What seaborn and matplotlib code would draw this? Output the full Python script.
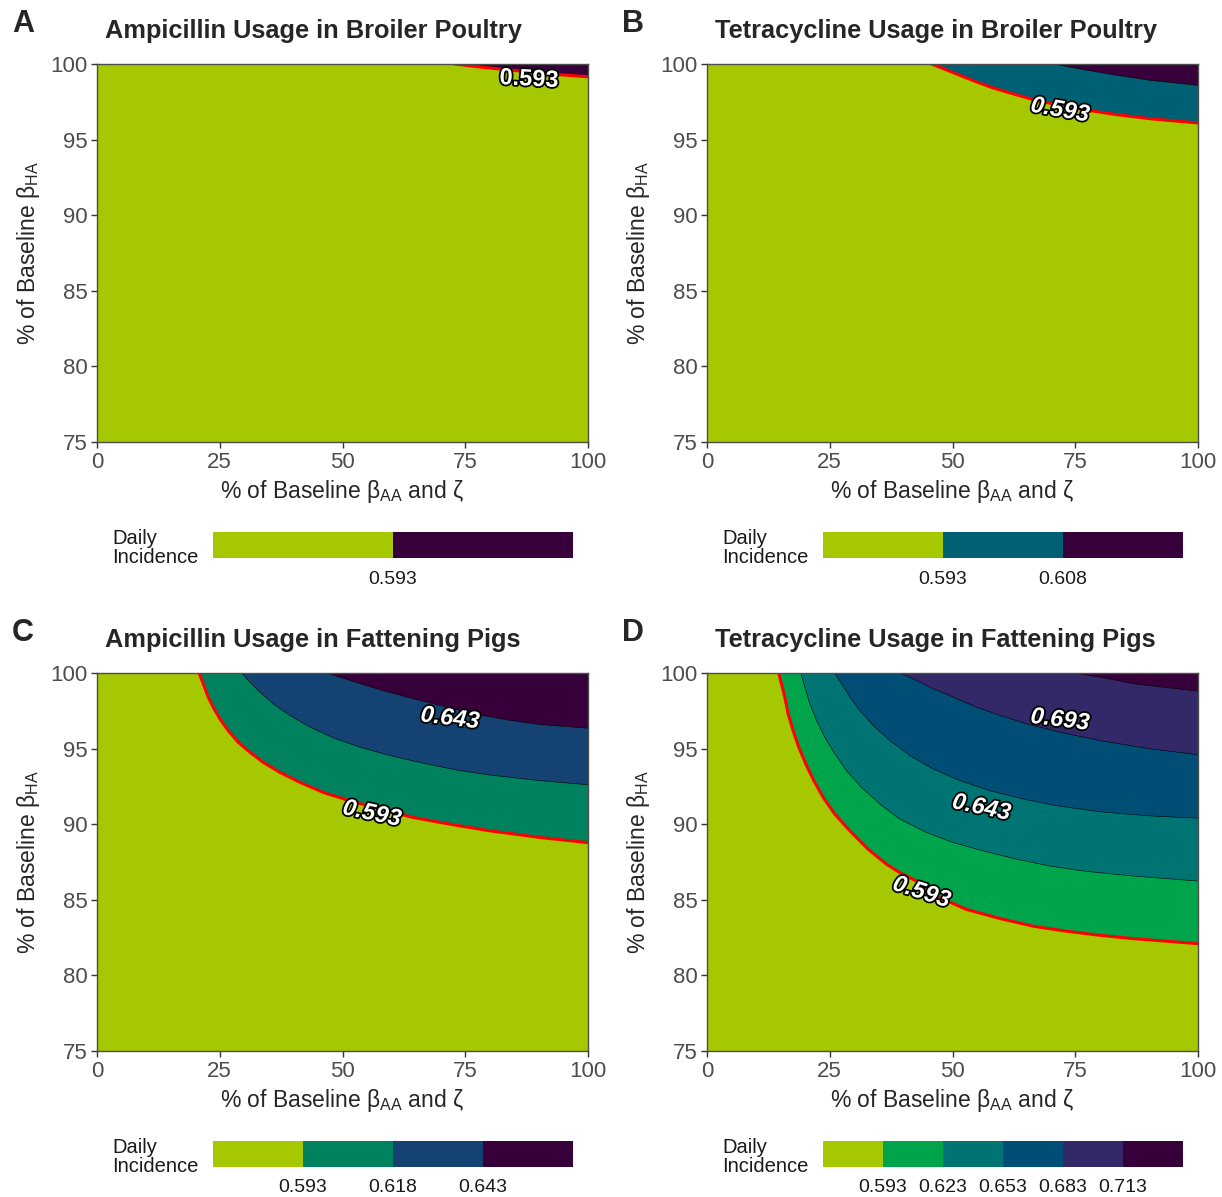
import matplotlib
matplotlib.use("Agg")
import matplotlib.pyplot as plt
import matplotlib.patheffects as pe
from matplotlib.colors import ListedColormap, BoundaryNorm
from matplotlib.cm import ScalarMappable
import seaborn as sns

# ----------------------------------------------------------------------------
# Dados: fronteiras das faixas de contorno (x, y)
# ----------------------------------------------------------------------------
LIME = "#A6C800"

# A - Ampicilina, frango
a_levels = [0.593]
a_colors = [LIME, "#37003A"]
a_x1 = [72.9, 78.0, 84.1, 92.0, 100]
a_y1 = [100, 99.8, 99.6, 99.35, 99.15]

# B - Tetraciclina, frango
b_levels = [0.593, 0.608]
b_colors = [LIME, "#006073", "#37003A"]
b_x1 = [45.75, 48.13, 51.53, 54.93, 58.33, 62.41, 66.49, 71.24, 76.68, 83.48, 90.28, 100]
b_y1 = [100, 99.69, 99.25, 98.81, 98.41, 98.02, 97.64, 97.31, 96.98, 96.65, 96.38, 96.10]
b_x2 = [70.56, 76.68, 83.48, 90.28, 100]
b_y2 = [100, 99.63, 99.25, 98.92, 98.59]

# C - Ampicilina, suinos
c_levels = [0.593, 0.618, 0.643]
c_colors = [LIME, "#00825F", "#144373", "#37003A"]
c_x1 = [20.80, 21.62, 22.64, 23.66, 25.02, 26.72, 28.76, 31.14, 33.85, 37.25,
        41.33, 46.09, 51.53, 57.65, 64.45, 71.92, 80.08, 90.28, 100]
c_y1 = [100, 99.29, 98.41, 97.74, 96.97, 96.19, 95.42, 94.76, 94.09, 93.43,
        92.77, 92.10, 91.55, 91.00, 90.44, 90.00, 89.56, 89.12, 88.78]
c_x2 = [29.44, 31.14, 33.17, 35.89, 39.29, 43.37, 48.13, 53.57, 59.69, 66.49,
        73.28, 80.08, 90.28, 100]
c_y2 = [100, 99.40, 98.74, 97.96, 97.19, 96.42, 95.71, 95.09, 94.54, 94.03,
        93.58, 93.25, 92.88, 92.61]
c_x3 = [46.77, 51.53, 56.97, 63.09, 69.88, 76.68, 83.48, 90.28, 100]
c_y3 = [100, 99.51, 98.96, 98.41, 97.85, 97.30, 96.90, 96.59, 96.35]

# D - Tetraciclina, suinos
d_levels = [0.593, 0.623, 0.653, 0.683, 0.713]
d_colors = [LIME, "#00A54B", "#007373", "#004E76", "#332868", "#37003A"]
d_x1 = [14.60, 15.16, 15.84, 16.52, 17.54, 18.69, 20.12, 21.75, 23.66, 26.04,
        29.10, 32.83, 36.57, 39.29, 42.69, 47.45, 52.89, 59.69, 66.49, 73.28,
        80.08, 86.88, 93.68, 100]
d_y1 = [100, 99.29, 98.41, 97.30, 96.19, 95.09, 93.98, 92.88, 91.77, 90.66,
        89.56, 88.34, 87.35, 86.79, 86.24, 85.13, 84.36, 83.76, 83.25, 82.92,
        82.65, 82.43, 82.26, 82.10]
d_x2 = [19.10, 19.92, 20.94, 22.30, 24.00, 26.04, 28.42, 31.48, 35.21, 39.29,
        44.73, 50.17, 56.29, 63.09, 69.88, 76.68, 86.88, 100]
d_y2 = [100, 99.07, 97.96, 96.86, 95.75, 94.65, 93.54, 92.43, 91.33, 90.33,
        89.45, 88.78, 88.23, 87.68, 87.23, 86.90, 86.57, 86.24]
d_x3 = [26.04, 27.40, 29.10, 31.14, 33.85, 37.25, 41.33, 46.09, 51.53, 57.65,
        64.45, 71.24, 80.08, 90.28, 100]
d_y3 = [100, 99.29, 98.41, 97.52, 96.53, 95.53, 94.54, 93.65, 92.88, 92.21,
        91.66, 91.22, 90.82, 90.55, 90.40]
d_x4 = [39.29, 42.69, 46.09, 50.17, 54.93, 59.69, 65.13, 71.92, 80.08, 90.28, 100]
d_y4 = [100, 99.51, 98.96, 98.41, 97.74, 97.19, 96.64, 96.08, 95.53, 94.98, 94.60]
d_x5 = [74.64, 80.08, 86.88, 93.68, 100]
d_y5 = [100, 99.73, 99.29, 99.03, 98.81]

# rótulos dos contornos: (texto, x, y, rotação)
a_labels = [("0.593", 88.0, 99.0, -3)]
b_labels = [("0.593", 71.9, 96.95, -10)]
c_labels = [("0.643", 71.9, 97.0, -7), ("0.593", 56.0, 90.7, -12)]
d_labels = [("0.693", 71.9, 96.9, -7), ("0.643", 55.9, 91.1, -12),
            ("0.593", 43.7, 85.5, -18)]

x_ticks = [0, 25, 50, 75, 100]
y_ticks = [75, 80, 85, 90, 95, 100]

# ----------------------------------------------------------------------------
# Estilo
# ----------------------------------------------------------------------------
sns.set_style("ticks")
plt.rcParams["font.family"] = ["Liberation Sans", "DejaVu Sans"]
plt.rcParams["mathtext.fontset"] = "custom"
plt.rcParams["mathtext.rm"] = "Liberation Sans"
plt.rcParams["mathtext.it"] = "Liberation Sans:italic"

W, H = 1222, 1197
fig = plt.figure(figsize=(W / 100, H / 100), dpi=100)


def fx(x):
    return x / W


def fy(y):
    return 1 - y / H


def draw_panel(ax, curves, colors, labels, italic=True):
    ax.fill([0, 100, 100, 0], [75, 75, 100, 100], color=colors[0], lw=0)
    for (cx, cy), col in zip(curves, colors[1:]):
        ax.fill(list(cx) + [100], list(cy) + [100], color=col, lw=0)
    for cx, cy in curves[1:]:
        sns.lineplot(x=cx, y=cy, sort=False, estimator=None, color="black",
                     lw=0.4, ax=ax)
    sns.lineplot(x=curves[0][0], y=curves[0][1], sort=False, estimator=None,
                 color="#FF0000", lw=2.2, ax=ax)
    for s, x, y, rot in labels:
        ax.text(x, y, s, rotation=rot, ha="center", va="center", fontsize=17,
                fontweight="bold", style="italic" if italic else "normal",
                color="white", rotation_mode="anchor",
                path_effects=[pe.withStroke(linewidth=2.5, foreground="black")])
    ax.set_xlim(0, 100)
    ax.set_ylim(75, 100)
    ax.set_xticks(x_ticks)
    ax.set_yticks(y_ticks)
    ax.tick_params(labelsize=16, labelcolor="#4D4D4D", color="#333333",
                   length=4, width=1, pad=3)
    for sp in ax.spines.values():
        sp.set_visible(True)
        sp.set_color("#4D4D4D")
        sp.set_linewidth(1)
    ax.set_xlabel(r"% of Baseline β$_{\mathrm{AA}}$ and ζ", fontsize=16.5,
                  labelpad=4)
    ax.set_ylabel(r"% of Baseline β$_{\mathrm{HA}}$", fontsize=16.5, labelpad=6)


def draw_colorbar(cax, levels, colors):
    step = 0.015
    bounds = [levels[0] - step] + levels + [levels[-1] + step]
    cmap = ListedColormap(colors)
    norm = BoundaryNorm(bounds, cmap.N)
    cb = fig.colorbar(ScalarMappable(norm=norm, cmap=cmap), cax=cax,
                      orientation="horizontal", ticks=levels, spacing="uniform")
    cb.outline.set_visible(False)
    cb.minorticks_off()
    cb.ax.set_xticklabels([f"{v:.3f}" for v in levels])
    cax.tick_params(which="both", length=0, labelsize=14, pad=9,
                    labelcolor="#1A1A1A")


panels = [
    ("A", "Ampicillin Usage in Broiler Poultry", [(a_x1, a_y1)], a_colors,
     a_levels, a_labels, 97, 64),
    ("B", "Tetracycline Usage in Broiler Poultry", [(b_x1, b_y1), (b_x2, b_y2)],
     b_colors, b_levels, b_labels, 707, 64),
    ("C", "Ampicillin Usage in Fattening Pigs",
     [(c_x1, c_y1), (c_x2, c_y2), (c_x3, c_y3)], c_colors, c_levels, c_labels,
     97, 673),
    ("D", "Tetracycline Usage in Fattening Pigs",
     [(d_x1, d_y1), (d_x2, d_y2), (d_x3, d_y3), (d_x4, d_y4), (d_x5, d_y5)],
     d_colors, d_levels, d_labels, 707, 673),
]

aw, ah = 491, 378
for letter, title, curves, colors, levels, labels, left, top in panels:
    ax = fig.add_axes([fx(left), fy(top + ah), aw / W, ah / H])
    draw_panel(ax, curves, colors, labels, italic=(letter != "A"))
    fig.text(fx(left - 85), fy(top - 40), letter, fontsize=22,
             fontweight="bold", ha="left", va="center")
    fig.text(fx(left + 8), fy(top - 33), title, fontsize=18.3,
             fontweight="bold", ha="left", va="center")
    cax = fig.add_axes([fx(left + 116), fy(top + 494), 360 / W, 26 / H])
    draw_colorbar(cax, levels, colors)
    fig.text(fx(left + 15), fy(top + 484), "Daily\nIncidence", fontsize=14.5,
             ha="left", va="center", linespacing=1.05, color="#1A1A1A")

fig.savefig("out.png", dpi=100)
